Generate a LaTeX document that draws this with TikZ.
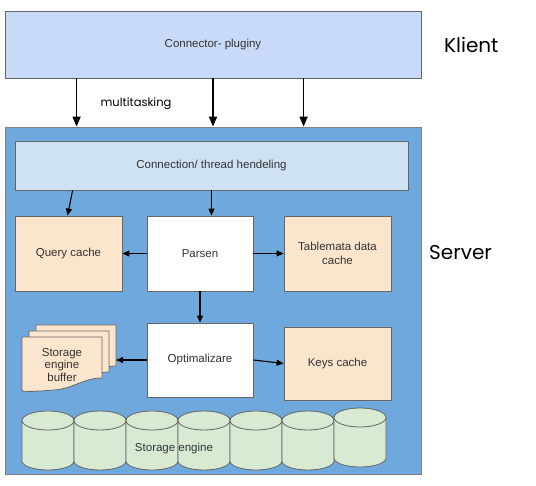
\documentclass[tikz,border=0pt]{standalone}
\usepackage{fontspec}
\setmainfont{Liberation Sans}
\newfontfamily\roundfont{Poppins}
\usetikzlibrary{arrows.meta}
\definecolor{topblue}{HTML}{C9DAF8}
\definecolor{srvblue}{HTML}{6FA8DC}
\definecolor{connblue}{HTML}{CFE2F3}
\definecolor{peach}{HTML}{FCE5CD}
\definecolor{cylgreen}{HTML}{D9EAD3}
\definecolor{edgegray}{HTML}{666666}
\definecolor{txtgray}{HTML}{333333}
\newcommand\docpage[2]{%
  \filldraw[draw=edgegray, fill=peach, line width=0.8pt]
    (#1,#2) -- ++(80,0) -- ++(0,41)
    .. controls ++(-18,0) and ++(18,-1) .. ++(-48,12)
    .. controls ++(-14,1) and ++(8,1) .. ++(-32,1) -- cycle;}
\begin{document}
\begin{tikzpicture}[x=1pt,y=-1pt,
  box/.style={draw=edgegray, line width=0.8pt, inner sep=0pt, align=center,
    text=txtgray, font=\fontsize{11.5}{13.5}\selectfont},
  arr/.style={-{Triangle[length=7pt,width=6pt]}, line width=1.1pt, black},
  bigarr/.style={-{Triangle[length=10pt,width=8pt]}, line width=1.7pt, black},
  sidelabel/.style={font=\roundfont\fontsize{20}{24}\selectfont, text=black, inner sep=0pt},
  cyl/.style={draw=edgegray, fill=cylgreen, line width=0.8pt}
  ]
\useasboundingbox (0,0) rectangle (536,486);

% client
\node[box, fill=topblue, minimum width=416, minimum height=67] (client) at (213,44.5) {Connector- pluginy};
\node[sidelabel, anchor=west] (klient) at (444,45) {Klient};

% server
\node[box, draw=gray, fill=srvblue, minimum width=416, minimum height=347] (server) at (213,300.5) {};
\node[sidelabel, anchor=west] (serverlabel) at (429,253) {Server};

\node[box, fill=connblue, minimum width=393, minimum height=49] (conn) at (211.5,165.5) {Connection/ thread hendeling};

\node[box, fill=peach, minimum width=107, minimum height=75] (qc) at (68.5,253.5) {Query cache};
\node[box, fill=white, minimum width=106, minimum height=75] (parsen) at (200,253.5) {Parsen};
\node[box, fill=peach, minimum width=107, minimum height=75] (tab) at (337.5,253.5) {Tablemata data\\cache};

\node[box, fill=white, minimum width=106, minimum height=74] (opt) at (200,360) {Optimalizare};
\node[box, fill=peach, minimum width=107, minimum height=73] (keys) at (337.5,363.5) {Keys cache};

% storage engine buffer (multi-document)
\docpage{36}{325}
\docpage{29}{331}
\docpage{22}{337}
\node[box, draw=none, font=\fontsize{11.5}{12.8}\selectfont] (buffer) at (62,365) {Storage\\engine\\buffer};
\coordinate (bufin) at (116,360);

% storage engine cylinders
\foreach \i in {0,...,6}{
  \pgfmathsetmacro\xl{22+52*\i}
  \pgfmathsetmacro\xc{\xl+26}
  \pgfmathsetmacro\xr{\xl+52}
  \pgfmathsetmacro\dy{\i==6 ? -3 : 0}
  \pgfmathsetmacro\ta{411+9.5+\dy}
  \pgfmathsetmacro\bb{470-9+\dy}
  \filldraw[cyl] (\xl,\ta) -- (\xl,\bb)
     arc[start angle=180, end angle=0, x radius=26, y radius=9]
     -- (\xr,\ta)
     arc[start angle=0, end angle=-180, x radius=26, y radius=9.5] -- cycle;
  \draw[cyl, fill=none] (\xl,\ta) arc[start angle=180, end angle=0, x radius=26, y radius=9.5];
}
\node[box, draw=none] (storage) at (174,449) {Storage engine};

% arrows
\node[font=\roundfont\fontsize{11.5}{13}\selectfont, text=black, inner sep=0pt] (mt) at (136,103.5) {multitasking};
\draw[bigarr] ([xshift=72]client.south west) -- ([xshift=72]server.north west);
\draw[bigarr] (client.south) -- (server.north);
\draw[bigarr] ([xshift=299]client.south west) -- ([xshift=299]server.north west);

\draw[arr] ([xshift=58]conn.south west) -- ([xshift=53]qc.north west);
\draw[arr] (conn.south) -- (conn.south |- parsen.north);
\draw[arr] (parsen.west) -- (qc.east);
\draw[arr] (parsen.east) -- (tab.west);
\draw[arr] (parsen.south) -- (opt.north);
\draw[arr] (opt.west) -- (bufin);
\draw[arr] (opt.east) -- (keys.west);
\end{tikzpicture}
\end{document}
